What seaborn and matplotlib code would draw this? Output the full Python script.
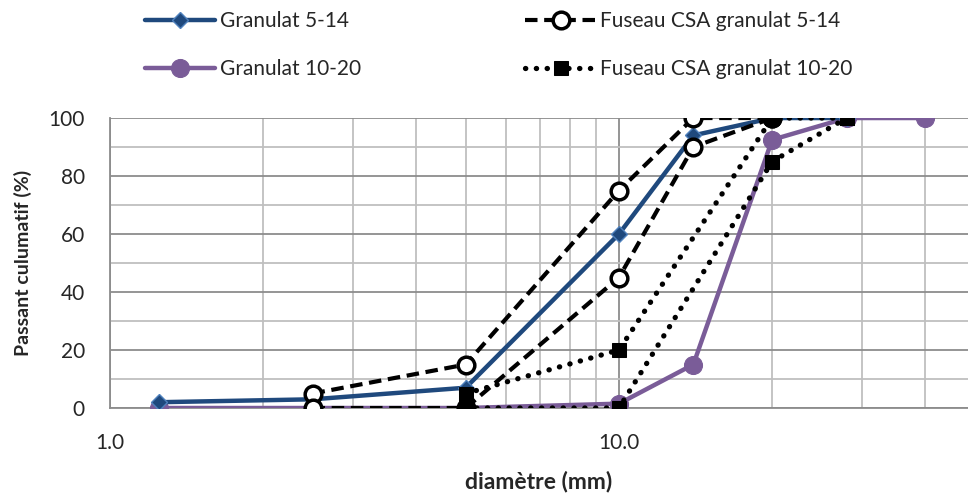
import numpy as np
import pandas as pd
import matplotlib
matplotlib.use("Agg")
import matplotlib.pyplot as plt
import matplotlib.ticker as mticker
import seaborn as sns

# tamis (mm)
d_g514 = [1.25, 2.5, 5, 10, 14, 20, 28]
p_g514 = [2, 3, 7, 60, 94, 100, 100]
d_g1020 = [1.25, 2.5, 5, 10, 14, 20, 28, 40]
p_g1020 = [0, 0, 0, 1.5, 15, 92.5, 100, 100]

d_f514 = [2.5, 5, 10, 14, 20]
p_f514_sup = [5, 15, 75, 100, 100]
p_f514_inf = [0, 0, 45, 90, 100]

d_f1020 = [5, 10, 20, 28]
p_f1020_sup = [5, 20, 100, 100]
p_f1020_inf = [0, 0, 85, 100]

sns.set_style("white")
plt.rcParams['font.family'] = ['Lato', 'DejaVu Sans']

blue = "#1F497D"
purple = "#7A5C98"

fig = plt.figure(figsize=(9.68, 4.98), dpi=100)
ax = fig.add_axes([0.1136, 0.1807, 0.8864, 0.5823])

sns.lineplot(x=d_g514, y=p_g514, ax=ax, sort=False, color=blue, lw=3.2,
             marker="D", markersize=8, markerfacecolor=blue, markeredgecolor="#4F81BD",
             markeredgewidth=1, label="Granulat 5-14", zorder=4)
sns.lineplot(x=d_g1020, y=p_g1020, ax=ax, sort=False, color=purple, lw=3.2,
             marker="o", markersize=13, markerfacecolor=purple, markeredgecolor=purple,
             label="Granulat 10-20", zorder=3)
for i, p in enumerate([p_f514_sup, p_f514_inf]):
    sns.lineplot(x=d_f514, y=p, ax=ax, sort=False, color="black", lw=3,
                 linestyle=(0, (3, 1.6)), marker="o", markersize=12,
                 markerfacecolor="white", markeredgecolor="black", markeredgewidth=2.5,
                 label="Fuseau CSA granulat 5-14" if i == 0 else None, zorder=5)
for i, p in enumerate([p_f1020_sup, p_f1020_inf]):
    sns.lineplot(x=d_f1020, y=p, ax=ax, sort=False, color="black", lw=3.8,
                 linestyle=(0, (0.05, 2.0)), dash_capstyle="round", marker="s",
                 markersize=10, markerfacecolor="black", markeredgecolor="black",
                 label="Fuseau CSA granulat 10-20" if i == 0 else None, zorder=5)

ax.set_xscale("log")
ax.set_xlim(1, 48.5)
ax.set_ylim(0, 100)
ax.set_yticks([0, 20, 40, 60, 80, 100])
ax.yaxis.set_minor_locator(mticker.MultipleLocator(10))
ax.xaxis.set_major_locator(mticker.FixedLocator([1, 10]))
ax.xaxis.set_major_formatter(mticker.FuncFormatter(lambda v, _: f"{v:.1f}"))
ax.xaxis.set_minor_locator(mticker.FixedLocator([2, 3, 4, 5, 6, 7, 8, 9, 20, 30, 40]))
ax.xaxis.set_minor_formatter(mticker.NullFormatter())

ax.grid(which="major", color="#8c8c8c", lw=1.3)
ax.grid(which="minor", color="#bfbfbf", lw=1.3)
ax.set_axisbelow(True)
for s in ["top", "right"]:
    ax.spines[s].set_visible(False)
for s in ["left", "bottom"]:
    ax.spines[s].set_color("#8c8c8c")
    ax.spines[s].set_linewidth(1.3)
ax.tick_params(axis="both", which="major", direction="out", length=6, width=1.3,
               color="#8c8c8c", labelsize=15)
ax.tick_params(axis="y", which="major", pad=12)
ax.tick_params(axis="x", which="major", pad=12)
ax.tick_params(axis="both", which="minor", length=0)
ax.set_xlabel("diamètre (mm)", fontsize=16.5, fontweight="bold", labelpad=13)
ax.set_ylabel("Passant culumatif (%)", fontsize=14, fontweight="bold", labelpad=12)

handles, labels = ax.get_legend_handles_labels()
ax.get_legend().remove()
fig.legend(handles, labels, ncol=2, loc="upper left", bbox_to_anchor=(0.13, 1.015),
           frameon=False, fontsize=15, handlelength=3.4, handletextpad=0.2,
           columnspacing=7.9, labelspacing=1.35)

fig.savefig("out.png", dpi=100)
